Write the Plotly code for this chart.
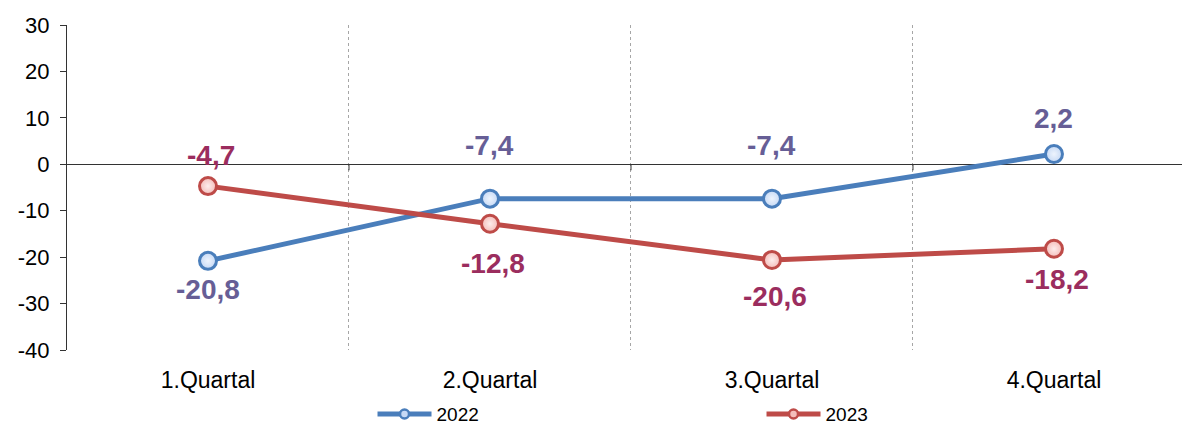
import plotly.graph_objects as go

categories = ["1.Quartal", "2.Quartal", "3.Quartal", "4.Quartal"]
values_2022 = [-20.8, -7.4, -7.4, 2.2]
values_2023 = [-4.7, -12.8, -20.6, -18.2]
labels_2022 = ["-20,8", "-7,4", "-7,4", "2,2"]
labels_2023 = ["-4,7", "-12,8", "-20,6", "-18,2"]
y_ticks = [30, 20, 10, 0, -10, -20, -30, -40]
y_tick_text = ["30", "20", "10", "0", "-10", "-20", "-30", "-40"]

xs = list(range(len(categories)))
FONT = "Liberation Sans, Arial, sans-serif"

BLUE, BLUE_FILL, BLUE_HI = "#4A7EBB", "#C6D9F5", "#EEF4FD"
RED, RED_FILL, RED_HI = "#BE4B48", "#F4BDBA", "#FDEDEC"

fig = go.Figure()
for name, vals, col, fill, hi in [("2022", values_2022, BLUE, BLUE_FILL, BLUE_HI),
                                   ("2023", values_2023, RED, RED_FILL, RED_HI)]:
    fig.add_trace(go.Scatter(
        x=xs, y=vals, name=name, mode="lines+markers", showlegend=False,
        line=dict(color=col, width=5),
        marker=dict(size=17, color=fill, line=dict(color=col, width=3),
                    gradient=dict(type="radial", color=hi)),
    ))
# legend-only entries with a smaller marker, as in the reference legend
for name, col, fill in [("2022", BLUE, BLUE_FILL), ("2023", RED, RED_FILL)]:
    fig.add_trace(go.Scatter(
        x=[None], y=[None], name=name, mode="lines+markers",
        line=dict(color=col, width=5),
        marker=dict(size=9, color=fill, line=dict(color=col, width=2.5)),
    ))

# data labels (pixel offsets from the point)
shift_2022 = [-29, 53, 53, 36]
shift_2023 = [31, -40, -37, -31]
for x, y, t, s in zip(xs, values_2022, labels_2022, shift_2022):
    fig.add_annotation(x=x, y=y, text=t, showarrow=False, yshift=s,
                       font=dict(family=FONT, size=28, color="#665E96", weight="bold"))
for x, y, t, s in zip(xs, values_2023, labels_2023, shift_2023):
    fig.add_annotation(x=x, y=y, text=t, showarrow=False, yshift=s, xshift=3,
                       font=dict(family=FONT, size=28, color="#9B2D5E", weight="bold"))

# small tick marks on the zero line at the category boundaries
for i in range(len(categories) - 1):
    fig.add_shape(type="line", xref="x", yref="y", x0=i + 0.5, x1=i + 0.5,
                  ysizemode="pixel", yanchor=0, y0=0, y1=-6,
                  line=dict(color="#333333", width=1))

fig.update_layout(
    width=1182, height=427,
    margin=dict(l=67, r=0, t=25, b=77),
    paper_bgcolor="white", plot_bgcolor="white",
    font=dict(family=FONT, color="black"),
    showlegend=True,
    legend=dict(orientation="h", x=0.274, xanchor="left", xref="paper",
                y=0.03, yanchor="middle", yref="container",
                entrywidth=320, entrywidthmode="pixels", itemwidth=54,
                font=dict(size=19, family=FONT, color="black")),
    xaxis=dict(
        range=[-0.5, 3.454], tickmode="array", tickvals=xs, ticktext=categories,
        showgrid=False, zeroline=False, showline=False, ticks="",
        ticklabelstandoff=14, tickfont=dict(size=23, family=FONT, color="black"),
        minor=dict(tickmode="linear", tick0=0.5, dtick=1, showgrid=True,
                   gridcolor="#A6A6A6", griddash="dot", gridwidth=1),
        fixedrange=True,
    ),
    yaxis=dict(
        range=[-40, 30], tickmode="array", tickvals=y_ticks, ticktext=y_tick_text,
        showgrid=False, zeroline=True, zerolinecolor="#333333", zerolinewidth=1,
        showline=True, linecolor="#333333", linewidth=1,
        ticks="outside", ticklen=6, tickcolor="#333333", ticklabelstandoff=6,
        tickfont=dict(size=22, family=FONT, color="black"),
        fixedrange=True,
    ),
)

fig.write_html("out.html")
